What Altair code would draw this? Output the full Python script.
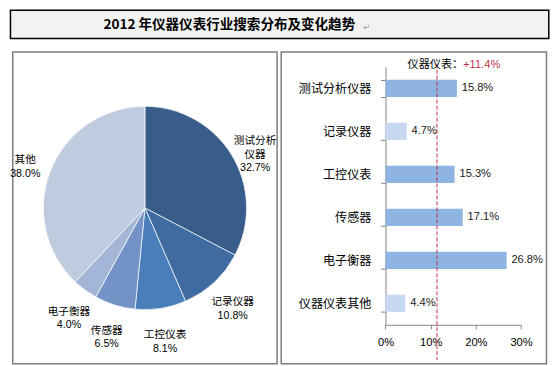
import altair as alt
import pandas as pd

# ---------------- data ----------------
title_text = "2012 年仪器仪表行业搜索分布及变化趋势"

pie_names = ["测试分析仪器", "记录仪器", "工控仪表", "传感器", "电子衡器", "其他"]
pie_values = [32.7, 10.8, 8.1, 6.5, 4.0, 38.0]
pie_colors = ["#385D8A", "#3F6BA1", "#4A7EBB", "#7393C7", "#A3B6D7", "#C0CBE0"]

bar_names = ["测试分析仪器", "记录仪器", "工控仪表", "传感器", "电子衡器", "仪器仪表其他"]
bar_values = [15.8, 4.7, 15.3, 17.1, 26.8, 4.4]
bar_colors = ["#8DB4E2", "#C6D9F0", "#8DB4E2", "#8DB4E2", "#8DB4E2", "#C6D9F0"]

industry_name = "仪器仪表："
industry_growth = 11.4
x_ticks = [0, 10, 20, 30]

# ---------------- styling ----------------
s = 0.97
def S(v):
    return round(v * s, 2)

FONT = "Liberation Sans, Noto Sans CJK SC"
CJK = "Noto Sans CJK SC"
RED = "#C0304A"
AXIS_GRAY = "#868686"
PANEL_STROKE = "#7F7F7F"

def wrap(name, n=4):
    return name if len(name) <= n else name[:n] + "\n" + name[n:]

pie_df = pd.DataFrame({
    "name": pie_names,
    "value": pie_values,
    "idx": list(range(len(pie_names))),
    "label": [wrap(n) + "\n" + f"{v:.1f}%" for n, v in zip(pie_names, pie_values)],
})

bar_df = pd.DataFrame({
    "name": bar_names,
    "cat": bar_names,
    "value": bar_values,
    "label": [f"{v:.1f}%" for v in bar_values],
})

# ---------------- title ----------------
title_df = pd.DataFrame({"t": [title_text]})
title_txt = alt.Chart(title_df).mark_text(
    font=CJK, fontSize=S(14), fontWeight="bold", align="left",
    baseline="middle", color="#000000"
).encode(x=alt.value(S(96)), y=alt.value(S(15)), text="t:N")
para = alt.Chart(title_df).mark_text(
    font="DejaVu Sans", fontSize=S(9), align="left", baseline="middle", color="#A0A0A0"
).encode(x=alt.value(S(364)), y=alt.value(S(17)), text=alt.value("↵"))
title = alt.layer(title_txt, para).properties(
    width=S(556), height=S(29),
    view=alt.ViewBackground(stroke="#000000", strokeWidth=1.5, fill="#F2F2F2"),
)

# ---------------- pie ----------------
pie_base = alt.Chart(pie_df).encode(
    theta=alt.Theta("value:Q", stack=True),
    order=alt.Order("idx:Q"),
)
arcs = pie_base.mark_arc(outerRadius=S(105), stroke="white", strokeWidth=0.7).encode(
    color=alt.Color("name:N", scale=alt.Scale(domain=pie_names, range=pie_colors), legend=None)
)
pie_labels = pie_base.mark_text(
    radius=S(133), fontSize=S(11), lineBreak="\n", font=FONT, color="#000000",
    lineHeight=S(14), align="center", baseline="middle"
).encode(text="label:N")
pie = alt.layer(arcs, pie_labels).properties(
    width=S(273), height=S(322),
    view=alt.ViewBackground(stroke=PANEL_STROKE, strokeWidth=1.5, fill="white"),
)

# ---------------- bars ----------------
x_enc = alt.X(
    "value:Q",
    scale=alt.Scale(domain=[0, 30], range=[S(107.7), S(247.7)], nice=False),
    axis=alt.Axis(
        title=None, values=x_ticks, labelExpr="datum.value + '%'",
        offset=-S(40.3), tickSize=4, labelPadding=S(8), grid=False,
        domainColor=AXIS_GRAY, tickColor=AXIS_GRAY, labelColor="#000000",
        labelFont=FONT, labelFontSize=S(11.5), labelFlush=False,
    ),
)
y_enc = alt.Y(
    "name:N", sort=bar_names,
    scale=alt.Scale(range=[S(15.3), S(281.7)], paddingInner=0.6, paddingOuter=0.3),
    axis=alt.Axis(
        title=None, orient="left", offset=-S(107.7), tickBand="extent",
        tickSize=5, labelPadding=S(10), grid=False,
        domainColor=AXIS_GRAY, tickColor=AXIS_GRAY, labelColor="#000000",
        labelFont=CJK, labelFontSize=S(12.5),
    ),
)
bar_base = alt.Chart(bar_df).encode(x=x_enc, y=y_enc)
bars = bar_base.mark_bar().encode(
    color=alt.Color("cat:N", scale=alt.Scale(domain=bar_names, range=bar_colors), legend=None)
)
bar_text = bar_base.mark_text(
    align="left", baseline="middle", dx=S(5), fontSize=S(11.5), font=FONT, color="#1A1A1A"
).encode(text="label:N")

one = pd.DataFrame({"k": [0]})
rule = alt.Chart(one).mark_rule(color=RED, strokeDash=[4, 2], strokeWidth=1).encode(
    x=alt.datum(industry_growth), y=alt.value(S(12)), y2=alt.value(S(318))
)
ind_name = alt.Chart(one).mark_text(
    align="right", baseline="middle", dx=S(27), fontSize=S(11.5), font=CJK, color="#000000"
).encode(x=alt.datum(industry_growth), y=alt.value(S(13)), text=alt.value(industry_name))
ind_val = alt.Chart(one).mark_text(
    align="left", baseline="middle", dx=S(27), fontSize=S(11.5), font=FONT, color=RED
).encode(x=alt.datum(industry_growth), y=alt.value(S(13)), text=alt.value(f"+{industry_growth}%"))

bar_chart = alt.layer(bars, bar_text, rule, ind_name, ind_val).properties(
    width=S(274), height=S(322),
    view=alt.ViewBackground(stroke=PANEL_STROKE, strokeWidth=1.5, fill="white"),
)

panels = alt.hconcat(pie, bar_chart, spacing=S(2)).resolve_scale(color="independent")

chart = alt.vconcat(
    title,
    panels,
    spacing=S(6),
    center=True,
).resolve_scale(color="independent").properties(padding=1, background="white")

chart.save("out.html", embed_options={"renderer": "svg", "actions": False})
